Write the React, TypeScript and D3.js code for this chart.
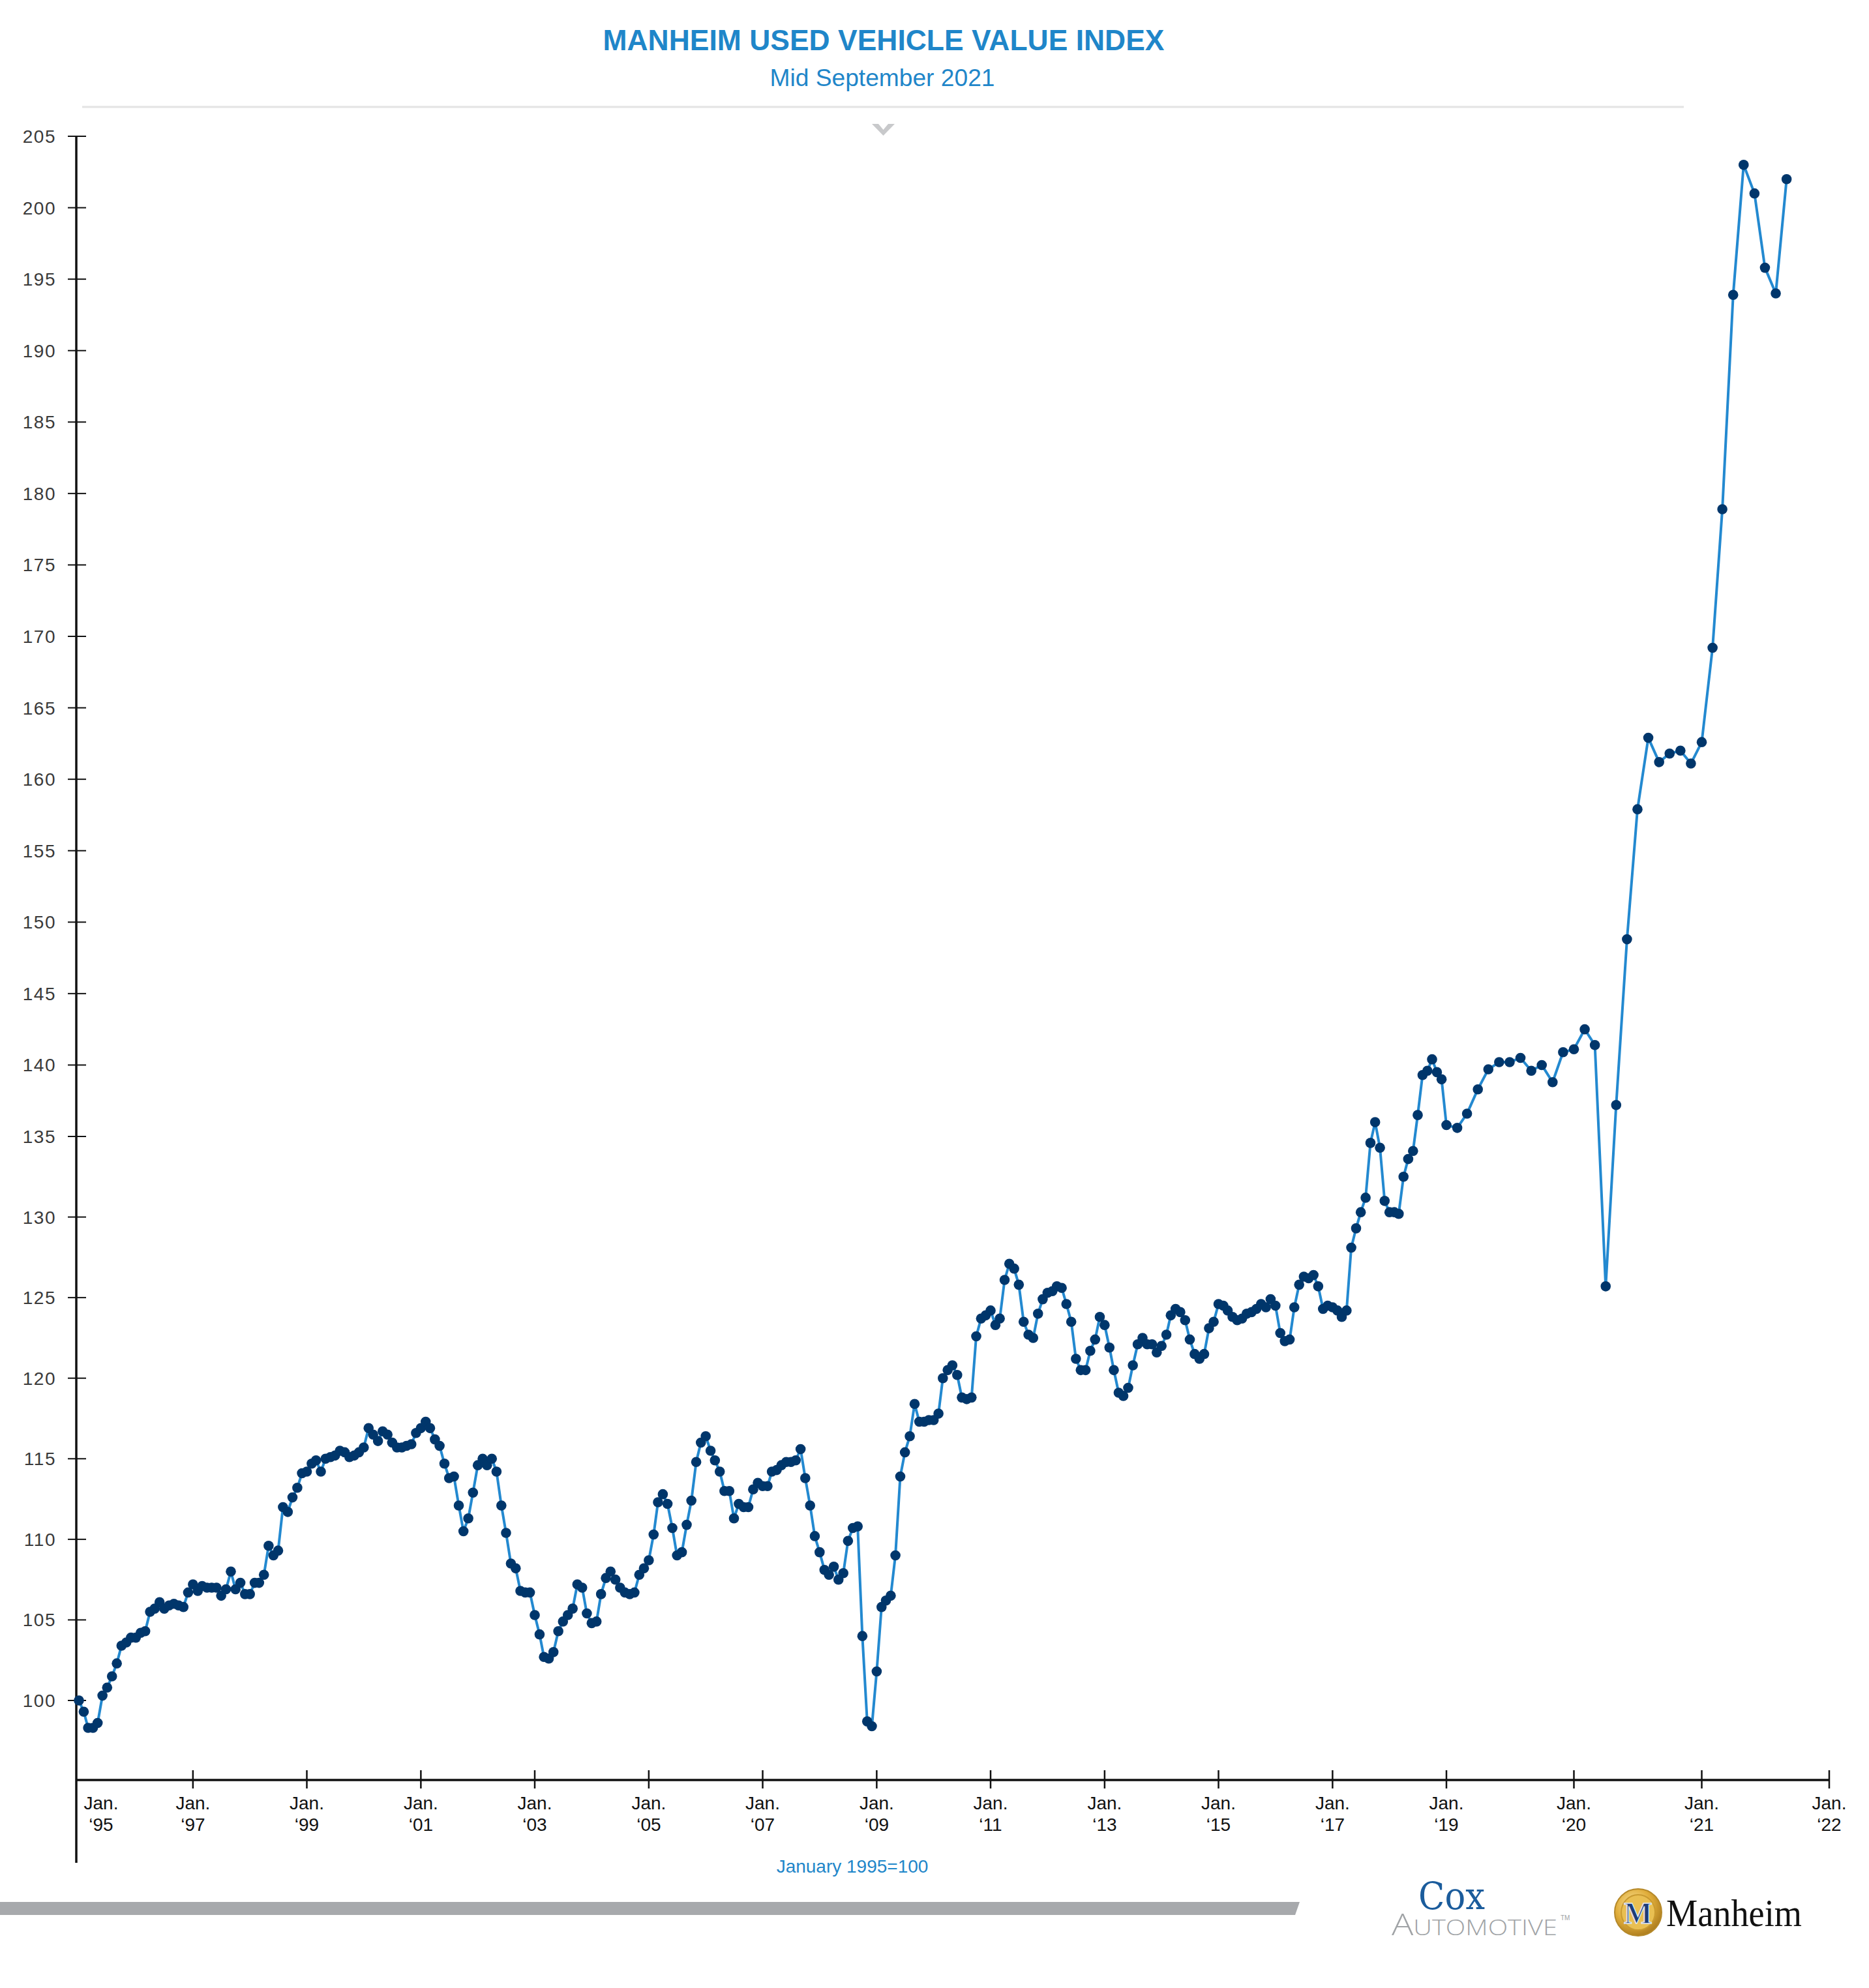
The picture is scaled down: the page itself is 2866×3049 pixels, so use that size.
import React from "react";
import * as d3 from "d3";

const W = 2866;
const H = 3049;

// Manheim index, one value per month starting January 1995 (last one = mid September 2021)
const idx1995_1999 = [
  100.0, 99.3, 98.3, 98.3, 98.6, 100.3, 100.8, 101.5, 102.3, 103.4, 103.6, 103.9,
  103.9, 104.2, 104.3, 105.5, 105.7, 106.1, 105.7, 105.9, 106.0, 105.9, 105.8, 106.7,
  107.2, 106.8, 107.1, 107.0, 107.0, 107.0, 106.5, 106.9, 108.0, 106.9, 107.3, 106.6,
  106.6, 107.3, 107.3, 107.8, 109.6, 109.0, 109.3, 112.0, 111.7, 112.6, 113.2, 114.1,
  114.2, 114.7, 114.9, 114.2, 115.0, 115.1, 115.2,
];
const idx1999_2003 = [
  115.5, 115.4, 115.1, 115.2, 115.4, 115.7, 116.9, 116.5, 116.1, 116.7, 116.5, 116.0,
  115.7, 115.7, 115.8, 115.9, 116.6, 116.9, 117.3, 116.9, 116.2, 115.8, 114.7, 113.8,
  113.9, 112.1, 110.5, 111.3, 112.9, 114.6, 115.0, 114.6, 115.0, 114.2, 112.1, 110.4,
  108.5, 108.2, 106.8, 106.7, 106.7, 105.3, 104.1, 102.7, 102.6, 103.0, 104.3, 104.9,
  105.3, 105.7,
];
const idx2003_2007 = [
  107.2, 107.0, 105.4, 104.8, 104.9, 106.6, 107.6, 108.0, 107.5, 107.0, 106.7, 106.6,
  106.7, 107.8, 108.2, 108.7, 110.3, 112.3, 112.8, 112.2, 110.7, 109.0, 109.2, 110.9,
  112.4, 114.8, 116.0, 116.4, 115.5, 114.9, 114.2, 113.0, 113.0, 111.3, 112.2, 112.0,
  112.0, 113.1, 113.5, 113.3, 113.3, 114.2, 114.3, 114.6, 114.8, 114.8, 114.9, 115.6,
  113.8, 112.1, 110.2, 109.2,
];
const idx2007_2010 = [
  108.1, 107.8, 108.3, 107.5, 107.9, 109.9, 110.7, 110.8, 104.0, 98.7, 98.4, 101.8,
  105.8, 106.2, 106.5, 109.0, 113.9, 115.4, 116.4, 118.4, 117.3, 117.3, 117.4, 117.4,
  117.8, 120.0, 120.5, 120.8, 120.2, 118.8, 118.7, 118.8,
];
const idx2010_2015 = [
  122.6, 123.7, 123.9, 124.2, 123.3, 123.7, 126.1, 127.1, 126.8, 125.8, 123.5, 122.7,
  122.5, 124.0, 124.9, 125.3, 125.4, 125.7, 125.6, 124.6, 123.5, 121.2, 120.5, 120.5,
  121.7, 122.4, 123.8, 123.3, 121.9, 120.5, 119.1, 118.9, 119.4, 120.8, 122.1, 122.5,
  122.1, 122.1, 121.6, 122.0, 122.7, 123.9, 124.3, 124.1, 123.6, 122.4, 121.5, 121.2,
  121.5, 123.1, 123.5, 124.6, 124.5, 124.2, 123.8, 123.6, 123.7, 124.0,
];
const idx2015_2018 = [
  124.1, 124.3, 124.6, 124.4, 124.9, 124.5, 122.8, 122.3, 122.4, 124.4, 125.8, 126.3,
  126.2, 126.4, 125.7, 124.3, 124.5, 124.4, 124.2, 123.8, 124.2, 128.1, 129.3, 130.3,
  131.2, 134.6, 136.0, 134.3, 131.0, 130.3, 130.3, 130.2, 132.5, 133.6, 134.1, 136.5,
  139.3, 139.6, 140.4, 139.5, 139.0,
];
const idx2019_2021 = [
  135.8, 135.6, 136.6, 138.3, 139.7, 140.2, 140.2, 140.5, 139.6, 140.0, 138.8, 140.9,
  141.1, 142.5, 141.4, 125.7, 137.2, 148.8, 157.9, 162.9, 161.2, 161.8, 162.0, 161.1,
  162.6, 169.2, 178.9, 193.9, 203.0, 201.0, 195.8, 194.0, 202.0,
];

const yTicks = [100, 105, 110, 115, 120, 125, 130, 135, 140, 145, 150, 155, 160, 165, 170, 175, 180, 185, 190, 195, 200, 205];
const xTickYears = [1995, 1997, 1999, 2001, 2003, 2005, 2007, 2009, 2011, 2013, 2015, 2017, 2019, 2020, 2021, 2022];

const TITLE = "MANHEIM USED VEHICLE VALUE INDEX";
const SUBTITLE = "Mid September 2021";
const BASE_NOTE = "January 1995=100";

const BLUE = "#1f86c9";
const LINE = "#2389d0";
const DOT = "#00366b";
const FONT = "'Liberation Sans', Arial, Helvetica, sans-serif";

const values = [
  ...idx1995_1999,
  ...idx1999_2003,
  ...idx2003_2007,
  ...idx2007_2010,
  ...idx2010_2015,
  ...idx2015_2018,
  ...idx2019_2021,
];
const data = values.map((v, i) => ({ date: new Date(1995, i, 1), v }));

export default function App() {
  const axisX = 117;
  const axisY = 2730;

  // the original axis changes pace at 2019 (one year per label) and around 135
  const x = d3
    .scaleTime()
    .domain([new Date(1995, 0, 1), new Date(2019, 0, 1), new Date(2022, 0, 1)])
    .range([121, 2218, 2805]);
  const y = d3.scaleLinear().domain([100, 135, 205]).range([2608, 1743, 209]);

  const line = d3
    .line<{ date: Date; v: number }>()
    .x((d) => x(d.date))
    .y((d) => y(d.v))
    .curve(d3.curveLinear);

  const xEnd = x(new Date(2022, 0, 1));

  return (
    <svg
      width={W}
      height={H}
      viewBox={`0 0 ${W} ${H}`}
      style={{ position: "absolute", left: 0, top: 0, background: "#fff" }}
      fontFamily={FONT}
    >
      <rect x={0} y={0} width={W} height={H} fill="#fff" />

      {/* header */}
      <text x={1355} y={77} textAnchor="middle" fontSize={45} fontWeight="bold" fill={BLUE}
        textLength={861} lengthAdjust="spacingAndGlyphs">
        {TITLE}
      </text>
      <text x={1353} y={132} textAnchor="middle" fontSize={36} fill={BLUE}
        textLength={345} lengthAdjust="spacingAndGlyphs">
        {SUBTITLE}
      </text>
      <line x1={126} x2={2582} y1={164} y2={164} stroke="#e3e3e3" strokeWidth={3} />
      <path d="M1337,190 L1347,190 L1354.5,199 L1362,190 L1372,190 L1354.5,208 Z" fill="#c8c9cb" />

      {/* y axis */}
      <line x1={axisX} x2={axisX} y1={y(205)} y2={2857} stroke="#111" strokeWidth={3.5} />
      {yTicks.map((t) => (
        <g key={t}>
          <line x1={104} x2={132} y1={y(t)} y2={y(t)} stroke="#111" strokeWidth={2} />
          <text x={86} y={y(t) + 10} textAnchor="end" fontSize={28} fill="#3a3a3a" letterSpacing={1.5}>
            {t}
          </text>
        </g>
      ))}

      {/* x axis */}
      <line x1={axisX} x2={xEnd} y1={axisY} y2={axisY} stroke="#111" strokeWidth={3.5} />
      {xTickYears.map((yr) => {
        const tx = x(new Date(yr, 0, 1));
        const lx = yr === 1995 ? axisX + 38 : tx;
        return (
          <g key={yr}>
            {yr !== 1995 && (
              <line x1={tx} x2={tx} y1={axisY - 15} y2={axisY + 13} stroke="#111" strokeWidth={2.5} />
            )}
            <text x={lx} y={2775} textAnchor="middle" fontSize={28} fill="#111">
              Jan.
            </text>
            <text x={lx} y={2808} textAnchor="middle" fontSize={28} fill="#111">
              {"\u2018" + String(yr).slice(2)}
            </text>
          </g>
        );
      })}
      <text x={1307} y={2872} textAnchor="middle" fontSize={28} fill={BLUE}>
        {BASE_NOTE}
      </text>

      {/* series */}
      <path d={line(data) || ""} fill="none" stroke={LINE} strokeWidth={4} strokeLinejoin="round" />
      {data.map((d, i) => (
        <circle key={i} cx={x(d.date)} cy={y(d.v)} r={7.8} fill={DOT} />
      ))}

      {/* footer */}
      <path d="M0,2917 L1993,2917 L1986,2937 L0,2937 Z" fill="#a7a9ac" />
      <text x={2175} y={2928} fontSize={58} fill="#1b5c9c" fontFamily="'DejaVu Serif', serif"
        textLength={102} lengthAdjust="spacingAndGlyphs">
        Cox
      </text>
      <text x={2134} y={2968} fill="#a0a3a6" fontFamily="'Open Sans', sans-serif" fontWeight={300}
        textLength={254} lengthAdjust="spacingAndGlyphs">
        <tspan fontSize={46}>A</tspan>
        <tspan fontSize={33}>UTOMOTIVE</tspan>
      </text>
      <text x={2393} y={2945} fontSize={10} fill="#a0a3a6">TM</text>
      <defs>
        <radialGradient id="gold" cx="40%" cy="35%" r="70%">
          <stop offset="0%" stopColor="#fbe6a0" />
          <stop offset="55%" stopColor="#e0ad3a" />
          <stop offset="100%" stopColor="#a8781c" />
        </radialGradient>
      </defs>
      <ellipse cx={2512} cy={2933} rx={36} ry={36} fill="url(#gold)" stroke="#b5892a" strokeWidth={2} />
      <ellipse cx={2512} cy={2933} rx={26} ry={27} fill="#e9bf52" stroke="#c99a30" strokeWidth={2} />
      <text x={2512} y={2950} textAnchor="middle" fontSize={46} fontWeight="bold" fill="#1d3c78"
        stroke="#dfe6f0" strokeWidth={1.5} fontFamily="'Liberation Serif', serif">
        M
      </text>
      <text x={2555} y={2954} fontSize={60} fill="#111" fontFamily="'Liberation Serif', serif"
        textLength={208} lengthAdjust="spacingAndGlyphs">
        Manheim
      </text>
    </svg>
  );
}
